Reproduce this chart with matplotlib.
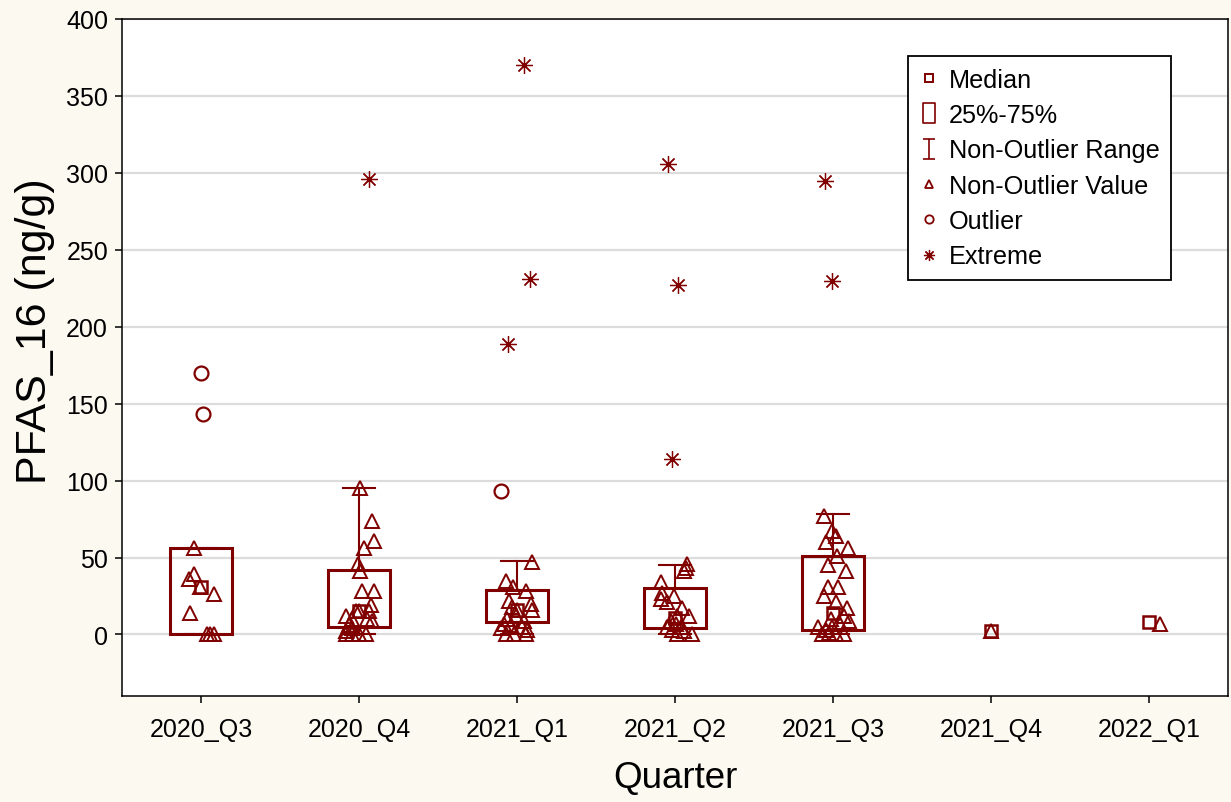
import numpy as np
import matplotlib.pyplot as plt
from matplotlib.lines import Line2D
from matplotlib.path import Path

plt.rcParams['font.family'] = ['Liberation Sans', 'DejaVu Sans']

quarters = ['2020_Q3', '2020_Q4', '2021_Q1', '2021_Q2', '2021_Q3', '2021_Q4', '2022_Q1']

# box statistics per quarter (nan = not drawn)
box_q1 = [0, 5, 8, 4.5, 3, np.nan, np.nan]
box_median = [31, 15, 16, 11, 14, 2.3, 8]
box_q3 = [56.5, 42, 29, 30, 51, np.nan, np.nan]
whisker_low = [0, 0, 0, 0, 0, np.nan, np.nan]
whisker_high = [56.5, 95, 48, 45, 78, np.nan, np.nan]

# raw non-outlier values and their horizontal jitter
vals_2020_q3 = [56.5, 39.5, 36, 31, 26.5, 14, 0, 0, 0]
jit_2020_q3 = [-0.044, -0.044, -0.076, -0.006, 0.082, -0.07, 0.038, 0.057, 0.082]
vals_2020_q4 = [95, 74, 61, 56, 46, 41, 28, 28, 19, 15, 15, 15, 12, 10, 10, 9, 6, 4, 2, 0, 0, 0, 0]
jit_2020_q4 = [0.006, 0.082, 0.095, 0.032, -0.006, 0.006, 0.019, 0.095, 0.076, -0.019, 0, 0.063,
               -0.082, -0.044, 0.051, 0.082, -0.063, -0.044, -0.082, -0.082, -0.044, 0, 0.044]
vals_2021_q1 = [47, 35, 31, 28, 22, 20, 18, 16, 16, 12, 10, 9, 7, 6, 5, 4, 3, 0, 0, 0]
jit_2021_q1 = [0.095, -0.07, -0.025, 0.057, -0.051, 0.089, -0.032, 0, 0.095, -0.006, -0.063,
               0.044, -0.082, -0.038, 0.032, -0.101, 0.063, -0.07, -0.019, 0.057]
vals_2021_q2 = [46, 43, 41, 34, 27, 25, 23, 21, 17, 12, 12, 9, 7, 5, 5, 3, 2, 0, 0]
jit_2021_q2 = [0.076, 0.07, 0.057, -0.089, -0.082, -0.006, -0.089, -0.051, 0.044, 0.089, 0.013,
               -0.025, 0.006, -0.051, 0.038, -0.019, 0.057, 0.013, 0.108]
vals_2021_q3 = [77, 67, 64, 60, 56, 51, 45, 41, 31, 31, 25, 21, 17, 12, 10, 9, 8, 5, 5, 3, 1, 0, 0, 0]
jit_2021_q3 = [-0.057, -0.006, 0.019, -0.044, 0.095, 0.025, -0.032, 0.082, -0.032, 0.032, -0.057,
               0.019, 0.089, 0.07, -0.013, 0.101, 0.038, -0.095, -0.006, -0.044, -0.025, -0.07,
               0.019, 0.07]
vals_2021_q4 = [2.3]
jit_2021_q4 = [0]
vals_2022_q1 = [7]
jit_2022_q1 = [0.07]

nonout_vals = [vals_2020_q3, vals_2020_q4, vals_2021_q1, vals_2021_q2, vals_2021_q3, vals_2021_q4, vals_2022_q1]
nonout_jit = [jit_2020_q3, jit_2020_q4, jit_2021_q1, jit_2021_q2, jit_2021_q3, jit_2021_q4, jit_2022_q1]

outlier_vals = [[170, 143], [], [93.5], [], [], [], []]
outlier_jit = [[0, 0.013], [], [-0.101], [], [], [], []]

extreme_vals = [[], [296], [370, 231, 189], [306, 227, 114], [295, 230], [], []]
extreme_jit = [[], [0.063], [0.044, 0.082, -0.057], [-0.044, 0.019, -0.019], [-0.051, -0.006], [], []]

col = '#800000'
box_w = 0.39
cap_w = 0.2

fig = plt.figure(figsize=(12.31, 8.03), dpi=100, facecolor='#fcf9f1')
ax = fig.add_axes([0.0991, 0.132, 0.8985, 0.8431])
ax.set_facecolor('white')

for i in range(len(quarters)):
    if not np.isnan(box_q1[i]):
        # whiskers
        ax.plot([i, i], [box_q3[i], whisker_high[i]], color=col, lw=1.5, zorder=2)
        ax.plot([i - cap_w / 2, i + cap_w / 2], [whisker_high[i]] * 2, color=col, lw=1.5, zorder=2)
        ax.plot([i, i], [whisker_low[i], box_q1[i]], color=col, lw=1.5, zorder=2)
        ax.plot([i - cap_w / 2, i + cap_w / 2], [whisker_low[i]] * 2, color=col, lw=1.5, zorder=2)
        # box
        ax.add_patch(plt.Rectangle((i - box_w / 2, box_q1[i]), box_w, box_q3[i] - box_q1[i],
                                   fill=False, edgecolor=col, lw=2.2, zorder=3))
    ax.plot(i, box_median[i], 's', ms=9, mfc='none', mec=col, mew=1.8, zorder=4)
    ax.plot(i + np.array(nonout_jit[i]), nonout_vals[i], '^', ms=9.5, mfc='none', mec=col, mew=1.4, zorder=5)
    if outlier_vals[i]:
        ax.plot(i + np.array(outlier_jit[i]), outlier_vals[i], 'o', ms=10, mfc='none', mec=col, mew=1.6, zorder=5)
    if extreme_vals[i]:
        ax.plot(i + np.array(extreme_jit[i]), extreme_vals[i], marker=(8, 2, 0), ls='none', ms=12,
                mec=col, mew=0.9, zorder=5)

ax.set_xlim(-0.5, 6.5)
ax.set_ylim(-40, 400)
ax.set_yticks(np.arange(0, 401, 50))
ax.set_xticks(range(len(quarters)))
ax.set_xticklabels(quarters)
ax.grid(axis='y', color='#dcdcdc', lw=1.6, zorder=0)
ax.set_axisbelow(True)
ax.tick_params(axis='both', direction='out', length=5, width=1.1, labelsize=18, colors='black')
ax.tick_params(axis='x', pad=10)
ax.tick_params(axis='y', pad=5)
for s in ax.spines.values():
    s.set_linewidth(1.1)
    s.set_color('black')

ax.set_xlabel('Quarter', fontsize=26.5, labelpad=14)
ax.set_ylabel('PFAS_16 (ng/g)', fontsize=31)
ax.yaxis.set_label_coords(-0.061, 0.54)

# legend symbols
rect_path = Path([(-0.6, -1), (0.6, -1), (0.6, 1), (-0.6, 1), (-0.6, -1)],
                 [Path.MOVETO, Path.LINETO, Path.LINETO, Path.LINETO, Path.CLOSEPOLY])
ibeam_path = Path([(-0.6, 1), (0.6, 1), (0, 1), (0, -1), (-0.6, -1), (0.6, -1)],
                  [Path.MOVETO, Path.LINETO, Path.MOVETO, Path.LINETO, Path.MOVETO, Path.LINETO])
handles = [
    Line2D([], [], ls='none', marker='s', ms=6, mfc='none', mec=col, mew=1.4),
    Line2D([], [], ls='none', marker=rect_path, ms=15, mfc='none', mec=col, mew=1.2),
    Line2D([], [], ls='none', marker=ibeam_path, ms=15, mfc='none', mec=col, mew=1.2),
    Line2D([], [], ls='none', marker='^', ms=6, mfc='none', mec=col, mew=1.3),
    Line2D([], [], ls='none', marker='o', ms=6, mfc='none', mec=col, mew=1.3),
    Line2D([], [], ls='none', marker=(8, 2, 0), ms=8, mec=col, mew=0.9),
]
labels = ['Median', '25%-75%', 'Non-Outlier Range', 'Non-Outlier Value', 'Outlier', 'Extreme']
leg = ax.legend(handles, labels, loc='upper left', bbox_to_anchor=(0.711, 0.945), fontsize=18.2,
                frameon=True, fancybox=False, edgecolor='black', framealpha=1, borderpad=0.45,
                labelspacing=0.45, handlelength=0.7, handletextpad=0.45, borderaxespad=0)
leg.get_frame().set_linewidth(1.3)

plt.savefig('out.png', dpi=100, facecolor=fig.get_facecolor())
